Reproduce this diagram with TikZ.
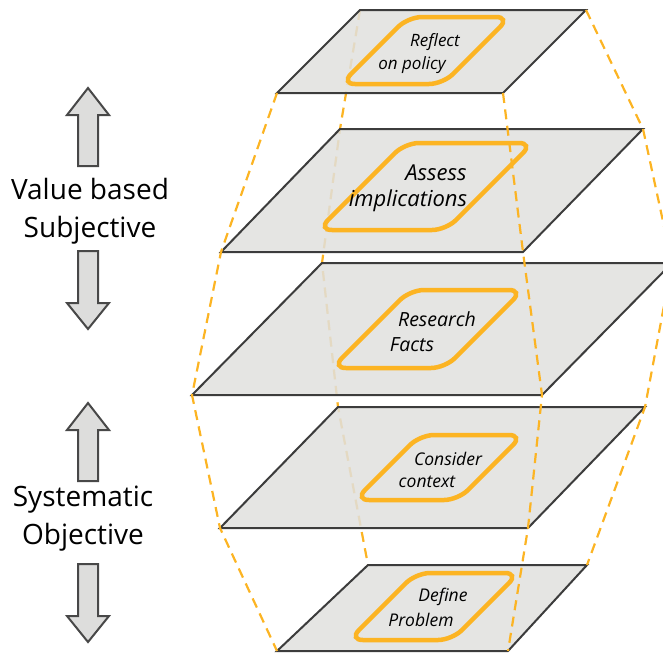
\documentclass[tikz,border=0pt]{standalone}
\usepackage{fontspec}
\setmainfont{Open Sans}
\definecolor{planefill}{RGB}{224,224,222}
\definecolor{planeedge}{RGB}{60,60,60}
\definecolor{orng}{RGB}{252,180,35}
\definecolor{arrowfill}{RGB}{221,221,220}
\definecolor{arrowedge}{RGB}{72,72,72}
\tikzset{
  plane/.style={draw=planeedge, line width=2pt, fill=planefill, fill opacity=0.85, line join=miter},
  stepframe/.style={draw=orng, line width=4.5pt, rounded corners=14pt},
  link/.style={draw=orng, line width=2.2pt, dash pattern=on 10pt off 6.5pt},
  steptext/.style={inner sep=0pt, font=\fontsize{#1}{#1}\selectfont\itshape},
  sidelabel/.style={inner sep=0pt, align=center, font=\fontsize{28}{38}\selectfont},
  blockarrow/.style={draw=arrowedge, line width=2pt, fill=arrowfill, line join=miter},
  uparrowblock/.pic={\path[blockarrow] (0,0) -- (21,27) -- (10,27) -- (10,78) -- (-10,78) -- (-10,27) -- (-21,27) -- cycle;},
  downarrowblock/.pic={\path[blockarrow] (0,0) -- (21,-26) -- (10,-26) -- (10,-78) -- (-10,-78) -- (-10,-26) -- (-21,-26) -- cycle;}
}
\begin{document}
\begin{tikzpicture}[x=1pt, y=-1pt]
\useasboundingbox (0,0) rectangle (663,654);
\clip (0,0) rectangle (663,654);

% plane corners
\coordinate (p1tl) at (360,10);  \coordinate (p1tr) at (586,10);
\coordinate (p1br) at (503,93);  \coordinate (p1bl) at (277,93);
\coordinate (p2tl) at (340,129); \coordinate (p2tr) at (643,129);
\coordinate (p2br) at (523,252); \coordinate (p2bl) at (221,252);
\coordinate (p3tl) at (322,263); \coordinate (p3tr) at (672,263);
\coordinate (p3br) at (542,395); \coordinate (p3bl) at (192,395);
\coordinate (p4tl) at (338,407); \coordinate (p4tr) at (645,407);
\coordinate (p4br) at (528,528); \coordinate (p4bl) at (220,528);
\coordinate (p5tl) at (368,565); \coordinate (p5tr) at (587,565);
\coordinate (p5br) at (508,651); \coordinate (p5bl) at (277,651);

% rear edge links, seen through the planes
\draw[link] (p1tl) -- (p2tl) -- (p3tl) -- (p4tl) -- (p5tl);

% the five planes
\foreach \i in {1,...,5}
  \path[plane] (p\i tl) -- (p\i tr) -- (p\i br) -- (p\i bl) -- cycle;

% front and side edge links
\draw[link] (p1bl) -- (p2bl) -- (p3bl) -- (p4bl) -- (p5bl);
\draw[link] (p1br) -- (p2br) -- (p3br) -- (p4br) -- (p5br);
\draw[link] (p1tr) -- (p2tr) -- (p3tr) -- (p4tr) -- (p5tr);

% rounded step frames on each plane
\path[stepframe] (390,84) -- (443,84) -- (510,17) -- (408,17) -- (341,84) -- cycle;
\path[stepframe] (380,230) -- (446,230) -- (533,143) -- (405,143) -- (318,230) -- cycle;
\path[stepframe] (390,368) -- (445,368) -- (523,290) -- (410,290) -- (332,368) -- cycle;
\path[stepframe] (400,500) -- (458,500) -- (523,435) -- (420,435) -- (355,500) -- cycle;
\path[stepframe] (400,640) -- (452,640) -- (519,573) -- (416,573) -- (349,640) -- cycle;

% step labels
\node[steptext=17] (s1a) at (435,42) {Reflect};
\node[steptext=17] (s1b) at (412,65) {on policy};
\node[steptext=22] (s2a) at (436,173) {Assess};
\node[steptext=22] (s2b) at (408,201) {implications};
\node[steptext=19.5] (s3a) at (437,319) {Research};
\node[steptext=19.5] (s3b) at (412,345) {Facts};
\node[steptext=17.5] (s4a) at (448,459) {Consider};
\node[steptext=17.5] (s4b) at (427,482) {context};
\node[steptext=17.5] (s5a) at (443,597) {Define};
\node[steptext=17.5] (s5b) at (421,620) {Problem};

% side arrows and labels
\pic at (88,88) {uparrowblock};
\pic at (88,329) {downarrowblock};
\pic at (88,403) {uparrowblock};
\pic at (88,642) {downarrowblock};
\node[sidelabel] (upper) at (90,211) {Value based\\Subjective};
\node[sidelabel] (lower) at (83,519) {Systematic\\Objective};
\end{tikzpicture}
\end{document}
